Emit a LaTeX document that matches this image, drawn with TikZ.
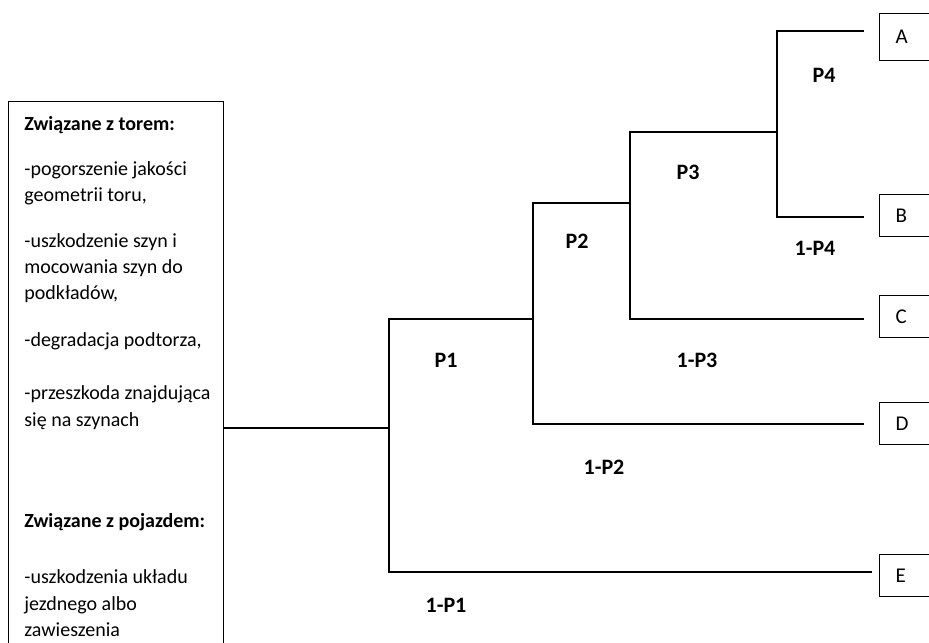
\documentclass[tikz,border=0pt]{standalone}
\usepackage{fontspec}
\setmainfont{Carlito}
\usetikzlibrary{positioning,calc}

\begin{document}
\begin{tikzpicture}[
    x=0.5pt, y=-0.5pt,
    branch/.style={line width=0.65pt},
    leaf/.style={draw, line width=0.6pt, anchor=north west, minimum height=21pt,
                 text width=40pt, inner xsep=8pt, align=left,
                 font=\fontsize{10.5}{12}\selectfont},
    prob/.style={font=\fontsize{11}{13}\selectfont\bfseries},
    causebox/.style={draw, line width=0.6pt, anchor=north west,
                     minimum width=107.5pt, minimum height=300pt},
    causetext/.style={anchor=north west, inner sep=0pt, align=left,
                      font=\fontsize{10}{13.2}\selectfont},
  ]
    \useasboundingbox (0,0) rectangle (929,642);

    % cause box on the left
    \node[causebox] (causes) at (8,101) {};
    \node[causetext] (causelist) at (24,116.5) {%
      \textbf{Związane z torem:}\\[9pt]
      -pogorszenie jakości\\
      geometrii toru,\\[9.5pt]
      -uszkodzenie szyn i\\
      mocowania szyn do\\
      podkładów,\\[10pt]
      -degradacja podtorza,\\[13.5pt]
      -przeszkoda znajdująca\\
      się na szynach\\[37.5pt]
      \textbf{Związane z pojazdem:}\\[15pt]
      -uszkodzenia układu\\
      jezdnego albo\\
      zawieszenia};

    % outcome boxes
    \node[leaf, minimum height=23.5pt] (leafA) at (879,13)  {A};
    \node[leaf] (leafB) at (879,194) {B};
    \node[leaf] (leafC) at (879,295) {C};
    \node[leaf] (leafD) at (879,402) {D};
    \node[leaf] (leafE) at (879,554) {E};

    % branching points and line ends
    \coordinate (j1) at (389,428);
    \coordinate (j2) at (533,319);
    \coordinate (j3) at (630,203);
    \coordinate (j4) at (777,132);
    \coordinate (endA) at (864,31);
    \coordinate (endB) at (864,217);
    \coordinate (endC) at (864,319);
    \coordinate (endD) at (864,424);
    \coordinate (endE) at (872,572);

    \draw[branch] (causes.east |- j1) -- (j1);
    \draw[branch] (j2) -| (j1) |- (endE);
    \draw[branch] (j3) -| (j2 |- j3) |- (endD);
    \draw[branch] (j4) -| (j3 |- j4) |- (endC);
    \draw[branch] (endA) -| (j4) |- (endB);

    % probabilities
    \node[prob] (p1)  at (446,360) {P1};
    \node[prob] (q1)  at (446,605) {1-P1};
    \node[prob] (p2)  at (577,241) {P2};
    \node[prob] (q2)  at (604,467) {1-P2};
    \node[prob] (p3)  at (688,172) {P3};
    \node[prob] (q3)  at (697,360) {1-P3};
    \node[prob] (p4)  at (824,75)  {P4};
    \node[prob] (q4)  at (815,248) {1-P4};
  \end{tikzpicture}
\end{document}
